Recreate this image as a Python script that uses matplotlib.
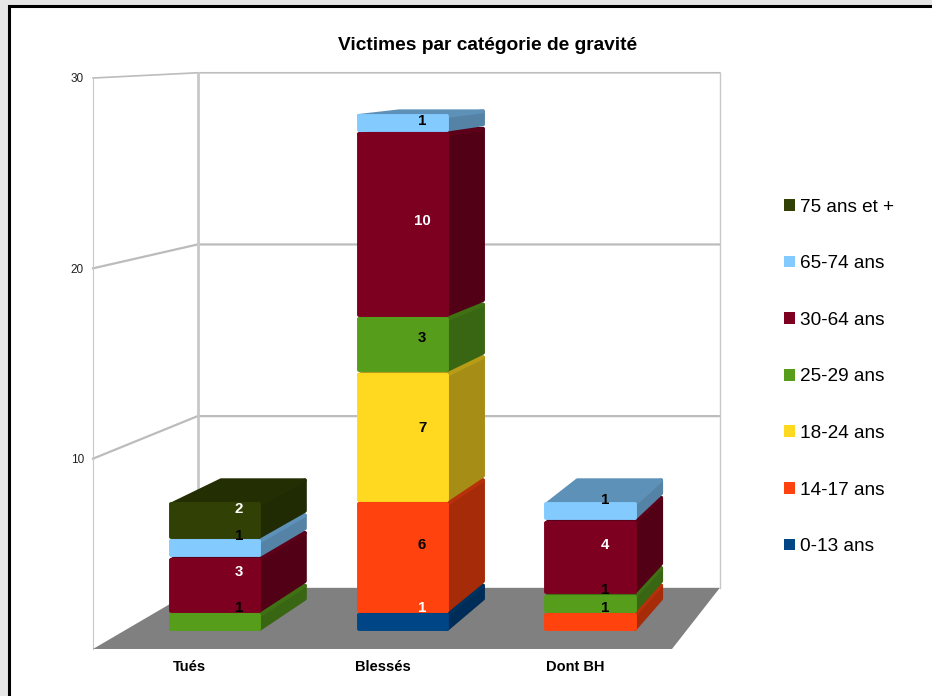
import matplotlib
matplotlib.use("Agg")
import matplotlib.pyplot as plt
from matplotlib.patches import Polygon, Rectangle, Patch
from matplotlib.colors import to_rgb

plt.rcParams["font.family"] = ["Liberation Sans", "DejaVu Sans"]

# donnees
categories = ["Tués", "Blessés", "Dont BH"]
series = ["0-13 ans", "14-17 ans", "18-24 ans", "25-29 ans", "30-64 ans", "65-74 ans", "75 ans et +"]
colors = ["#004586", "#ff420e", "#ffd920", "#579d1c", "#7e0021", "#83caff", "#314004"]
label_colors = ["white", "black", "black", "black", "white", "black", "white"]
age_0_13 = [0, 1, 0]
age_14_17 = [0, 6, 1]
age_18_24 = [0, 7, 0]
age_25_29 = [1, 3, 1]
age_30_64 = [3, 10, 4]
age_65_74 = [1, 1, 1]
age_75 = [2, 0, 0]
values = [age_0_13, age_14_17, age_18_24, age_25_29, age_30_64, age_65_74, age_75]
yticks = [10, 20, 30]

# perspective : point de fuite en coordonnees de donnees
VX, VY = 5.03, 32.8
S_BACK = 0.902
S_BAR_FRONT = 0.972
S_BAR_BACK = 0.923
HALF = 0.235
OFFSET = -0.007
GAP = 0.13
EDGE = 2.8


def proj(x, v, s):
    return (VX + (x - VX) * s, VY + (v - VY) * s)


def shade(c, k):
    return tuple(a * k for a in to_rgb(c))


fig = plt.figure(figsize=(9.32, 6.96), dpi=100, facecolor="#e6e6e6")
# cadre noir
fig.patches.append(Rectangle((8.5 / 932, -0.02), 1.1, 1.02 - 5.5 / 696, transform=fig.transFigure,
                             facecolor="white", edgecolor="black", linewidth=2.2, zorder=-1))

ax = fig.add_axes([93 / 932, 47 / 696, 579 / 932, 571 / 696])
ax.set_xlim(-0.5, 2.5)
ax.set_ylim(0, 30)
ax.patch.set_visible(False)
for sp in ax.spines.values():
    sp.set_visible(False)


def face(pts, color, z, **kw):
    ax.add_patch(Polygon(pts, closed=True, facecolor=color, edgecolor=color, clip_on=False,
                         joinstyle="round", zorder=z, **kw))


# sol
face([proj(-0.5, 0, 1), proj(2.5, 0, 1), proj(2.5, 0, S_BACK), proj(-0.5, 0, S_BACK)], "#808080", 1, linewidth=0)

# murs et grille
grid = "#bcbcbc"
for t in yticks:
    a, b, c = proj(-0.5, t, 1), proj(-0.5, t, S_BACK), proj(2.5, t, S_BACK)
    ax.plot([a[0], b[0], c[0]], [a[1], b[1], c[1]], color=grid, lw=1.6 if t < 30 else 1.2, clip_on=False, zorder=0.5)
for x, s, w in [(-0.5, 1, 0.8), (-0.5, S_BACK, 2.0), (2.5, S_BACK, 1.0)]:
    a, b = proj(x, 0, s), proj(x, 30, s)
    ax.plot([a[0], b[0]], [a[1], b[1]], color="#c8c8c8", lw=w, clip_on=False, zorder=0.5)

# barres empilees
z = 2
for i in range(len(categories)):
    base = 0
    x0 = i + OFFSET - HALF
    x1 = i + OFFSET + HALF
    for j in range(len(series)):
        val = values[j][i]
        if val == 0:
            continue
        lo = base + GAP
        hi = base + val - GAP
        col = colors[j]
        face([proj(x1, lo, S_BAR_FRONT), proj(x1, lo, S_BAR_BACK), proj(x1, hi, S_BAR_BACK), proj(x1, hi, S_BAR_FRONT)],
             shade(col, 0.65), z, linewidth=EDGE)
        face([proj(x0, hi, S_BAR_FRONT), proj(x1, hi, S_BAR_FRONT), proj(x1, hi, S_BAR_BACK), proj(x0, hi, S_BAR_BACK)],
             shade(col, 0.72), z, linewidth=EDGE)
        face([proj(x0, lo, S_BAR_FRONT), proj(x1, lo, S_BAR_FRONT), proj(x1, hi, S_BAR_FRONT), proj(x0, hi, S_BAR_FRONT)],
             col, z + 0.1, linewidth=EDGE)
        base += val
        z += 1
    # etiquettes par dessus
    base = 0
    for j in range(len(series)):
        val = values[j][i]
        if val == 0:
            continue
        lx, ly = proj(i + OFFSET, base + val / 2, (S_BAR_FRONT + S_BAR_BACK) / 2)
        ax.text(lx, ly - 0.06, str(val), color=label_colors[j], ha="center", va="center",
                fontsize=10.8, fontweight="bold", zorder=100)
        base += val

ax.set_xticks(range(3))
ax.set_xticklabels(categories, fontsize=10.5, fontweight="bold")
ax.set_yticks(yticks)
ax.tick_params(axis="both", length=0)
ax.tick_params(axis="y", labelsize=8.5, pad=6.5, labelcolor="#222222")
ax.tick_params(axis="x", pad=8)

fig.suptitle("Victimes par catégorie de gravité", x=488 / 932, y=1 - 45 / 696, va="center",
             fontsize=13.8, fontweight="bold")

handles = [Patch(facecolor=colors[j], edgecolor=colors[j], linewidth=0, label=series[j]) for j in range(6, -1, -1)]
fig.legend(handles=handles, loc="upper left", bbox_to_anchor=(778 / 932, 1 - 193 / 696), frameon=False,
           fontsize=13.7, handlelength=0.58, handleheight=0.58, handletextpad=0.28, labelspacing=2.08,
           borderpad=0.3, borderaxespad=0)

fig.savefig("out.png", dpi=100, facecolor=fig.get_facecolor())
